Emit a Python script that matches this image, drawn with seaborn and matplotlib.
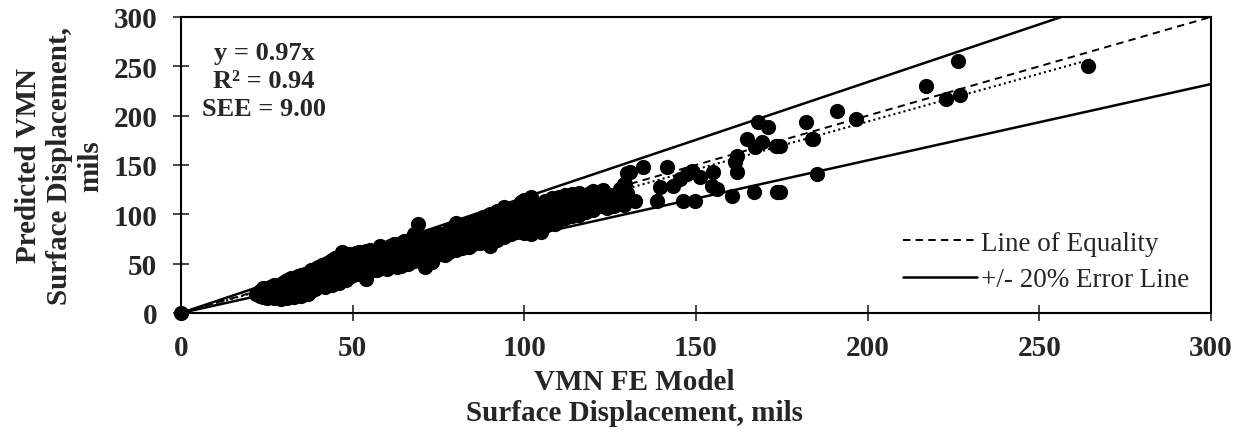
import seaborn as sns
import pandas as pd
from matplotlib import pyplot as plt
from matplotlib.lines import Line2D

# VMN FE model vs predicted surface displacement (mils)
fe_model = [
    0,
    22, 23, 23, 24, 24, 24, 25, 25, 25, 26, 26, 26,
    27, 27, 27, 27, 28, 28, 28, 29, 29, 29, 29,
    30, 30, 30, 30, 31, 31, 31, 31, 32, 32, 32, 32,
    33, 33, 33, 33, 34, 34, 34, 34, 35, 35, 35, 35,
    36, 36, 36, 36, 37, 37, 37, 37, 38, 38, 38, 38,
    39, 39, 39, 39, 40, 40, 40, 40, 41, 41, 41, 41,
    42, 42, 42, 42, 43, 43, 43, 43, 44, 44, 44, 44,
    45, 45, 45, 45, 46, 46, 46, 46, 47, 47, 47, 47,
    48, 48, 48, 48, 49, 49, 49, 49, 50, 50, 50, 50,
    51, 51, 51, 51, 52, 52, 52, 52, 53, 53, 53, 53,
    54, 54, 54, 54, 54, 55, 55, 55, 55, 56, 56, 56,
    57, 57, 57, 57, 58, 58, 58, 58, 59, 59, 59, 59,
    60, 60, 60, 60, 61, 61, 61, 61, 62, 62, 62, 62,
    63, 63, 63, 63, 64, 64, 64, 64, 65, 65, 65, 65,
    66, 66, 66, 66, 67, 67, 67, 67, 68, 68, 68, 68,
    69, 69, 69, 69, 70, 70, 70, 70, 71, 71, 71, 71,
    72, 72, 72, 72, 73, 73, 73, 73, 74, 74, 74,
    75, 75, 75, 75, 76, 76, 76, 77, 77, 77, 77,
    78, 78, 78, 78, 79, 79, 79, 80, 80, 80, 80, 80,
    82, 82, 82, 82, 83, 83, 83, 84, 84, 84, 84,
    85, 85, 85, 86, 86, 86, 86, 87, 87, 87, 87,
    88, 88, 88, 88, 89, 89, 89, 90, 90, 90, 90, 90,
    91, 91, 91, 92, 92, 92, 92, 92, 93, 93, 93,
    94, 94, 94, 94, 94, 95, 95, 95, 96, 96, 96, 96,
    97, 97, 97, 98, 98, 98, 98, 99, 99, 99, 99,
    100, 100, 100, 100, 100, 101, 101, 101, 101,
    102, 102, 102, 102, 102, 103, 103, 103, 103,
    104, 104, 104, 105, 105, 105, 105, 106, 106, 106, 106,
    107, 107, 107, 108, 108, 108, 108, 109, 109, 109,
    110, 110, 110, 110, 112, 112, 112, 112, 113, 113, 113,
    114, 114, 114, 114, 116, 116, 116, 116, 118, 118, 118,
    119, 119, 119, 120, 120, 120, 120, 122, 122, 122,
    123, 123, 123, 124, 124, 124, 126, 126, 126,
    128, 128, 128, 129, 129, 129, 130, 130, 130,
    128.8, 129.3, 130.8, 132.2, 134.7, 138.6, 139.5, 141.5, 143.4,
    145.4, 146.3, 147.3, 148.8, 149.7, 151.2, 154.6, 155.0, 156.0,
    160.4, 161.4, 161.9, 162.0, 164.8, 166.9, 167.2, 168.2, 169.1,
    170.9, 173.2, 173.5, 174.5, 174.5, 182.0, 183.9, 184.0, 185.3,
    191.0, 196.6, 217.0, 222.7, 226.3, 226.9, 264.2,
]
predicted = [
    0,
    19, 17, 22, 16, 20, 25, 15, 19, 23, 17, 21, 26,
    15, 19, 24, 28, 16, 21, 27, 14, 18, 23, 29,
    16, 20, 25, 31, 15, 22, 27, 33, 18, 24, 30, 35,
    16, 21, 28, 34, 19, 26, 32, 37, 17, 23, 30, 38,
    21, 28, 35, 40, 19, 25, 32, 41, 22, 29, 36, 44,
    24, 31, 38, 45, 27, 34, 41, 47, 29, 36, 43, 49,
    26, 33, 40, 50, 30, 38, 45, 52, 28, 35, 42, 54,
    32, 40, 48, 56, 30, 38, 46, 55, 34, 42, 50, 62,
    33, 44, 52, 59, 36, 46, 54, 60, 38, 45, 53, 58,
    40, 48, 55, 61, 42, 50, 57, 62, 39, 47, 54, 60,
    34, 44, 52, 58, 63, 43, 51, 57, 64, 46, 53, 60,
    44, 50, 56, 62, 47, 54, 61, 68, 49, 56, 63, 66,
    45, 52, 58, 65, 48, 55, 62, 68, 50, 57, 64, 70,
    47, 54, 60, 67, 48, 56, 63, 71, 52, 59, 66, 73,
    50, 58, 65, 70, 54, 61, 68, 75, 53, 60, 67, 80,
    56, 63, 72, 90, 55, 62, 69, 76, 47, 58, 66, 74,
    60, 67, 73, 78, 52, 62, 70, 77, 58, 65, 72,
    60, 68, 74, 81, 63, 70, 77, 59, 66, 73, 80,
    62, 69, 76, 84, 65, 72, 79, 64, 71, 78, 86, 91,
    66, 73, 80, 88, 68, 76, 84, 67, 74, 82, 90,
    70, 78, 86, 72, 80, 88, 94, 71, 79, 85, 92,
    74, 82, 90, 97, 76, 84, 92, 68, 75, 83, 91, 100,
    78, 86, 94, 74, 81, 89, 97, 103, 80, 88, 96,
    77, 85, 93, 101, 107, 82, 90, 98, 80, 87, 95, 104,
    84, 92, 100, 82, 90, 98, 106, 86, 94, 102, 112,
    81, 88, 96, 104, 115, 84, 92, 100, 108,
    80, 89, 97, 105, 118, 87, 95, 103, 111,
    90, 98, 106, 82, 93, 101, 110, 88, 96, 104, 113,
    92, 100, 108, 95, 103, 111, 117, 90, 99, 107,
    94, 102, 110, 118, 96, 104, 112, 120, 99, 107, 115,
    98, 106, 114, 121, 99, 108, 116, 122, 102, 110, 118,
    106, 114, 122, 104, 112, 120, 124, 108, 116, 123,
    110, 118, 125, 106, 114, 121, 109, 117, 108,
    112, 120, 126, 109, 131, 118, 114, 122, 142,
    129.0, 130.7, 142.5, 113.8, 147.6, 113.8, 127.4, 147.6, 129.0,
    135.8, 113.8, 140.8, 144.2, 113.8, 137.5, 129.0, 142.5, 125.6,
    118.8, 152.7, 142.5, 159.4, 176.3, 122.9, 167.9, 193.8, 173.6,
    188.0, 168.9, 122.3, 169.5, 122.6, 193.8, 176.3, 176.3, 140.8,
    205.0, 196.6, 230.3, 216.8, 255.3, 220.9, 250.0,
]

# reference lines
line_x = [0, 300]
equality_y = [0, 300]
upper_y = [0, 351]
lower_y = [0, 232]
trend_x = [0, 265]
trend_y = [0, 257]

df = pd.DataFrame({"fe": fe_model, "pred": predicted})

sns.set_style("ticks")
plt.rcParams["font.family"] = ["Liberation Serif", "DejaVu Serif"]

fig = plt.figure(figsize=(12.42, 4.31), dpi=100)
ax = fig.add_axes([0.1457, 0.2715, 0.8293, 0.6868])

dash = (0, (3.8, 2.7))
sns.lineplot(x=line_x, y=equality_y, color="black", lw=1.4, ax=ax, linestyle=dash)
sns.lineplot(x=line_x, y=upper_y, color="black", lw=1.8, ax=ax)
sns.lineplot(x=line_x, y=lower_y, color="black", lw=1.8, ax=ax)
sns.lineplot(x=trend_x, y=trend_y, color="black", lw=1.5, ax=ax,
             linestyle=(0, (1, 1.5)))
sns.scatterplot(data=df, x="fe", y="pred", color="black", s=120,
                linewidth=0, ax=ax, clip_on=False, zorder=5)

ax.set_xlim(0, 300)
ax.set_ylim(0, 300)
ax.set_xticks(range(0, 301, 50))
ax.set_yticks(range(0, 301, 50))
ax.tick_params(direction="inout", length=12, width=1.2, labelsize=21, pad=9)
ax.tick_params(axis="y", pad=11)
for lab in ax.get_xticklabels() + ax.get_yticklabels():
    lab.set_fontweight("bold")
for sp in ax.spines.values():
    sp.set_visible(True)
    sp.set_linewidth(1.5)
    sp.set_color("black")

ax.set_xlabel("VMN FE Model\nSurface Displacement, mils", fontsize=21,
              fontweight="bold", linespacing=1.2)
ax.xaxis.set_label_coords(0.44, -0.185)
ax.set_ylabel("Predicted VMN\nSurface Displacement,\nmils", fontsize=21,
              fontweight="bold", va="center", linespacing=1.2)
ax.yaxis.set_label_coords(-0.118, 0.5)

ax.text(24.2, 276, "y = 0.97x\nR² = 0.94\nSEE = 9.00", ha="center", va="top",
        fontsize=19, fontweight="bold", linespacing=1.3)

handles = [
    Line2D([], [], color="black", lw=1.4, linestyle=dash),
    Line2D([], [], color="black", lw=1.8),
]
ax.legend(handles, ["Line of Equality", "+/- 20% Error Line"], loc="lower right",
          bbox_to_anchor=(0.995, 0.015), frameon=False, fontsize=19.5,
          handlelength=2.75, handletextpad=0.15, labelspacing=0.43,
          borderaxespad=0.2)

plt.savefig("out.png", dpi=100)
